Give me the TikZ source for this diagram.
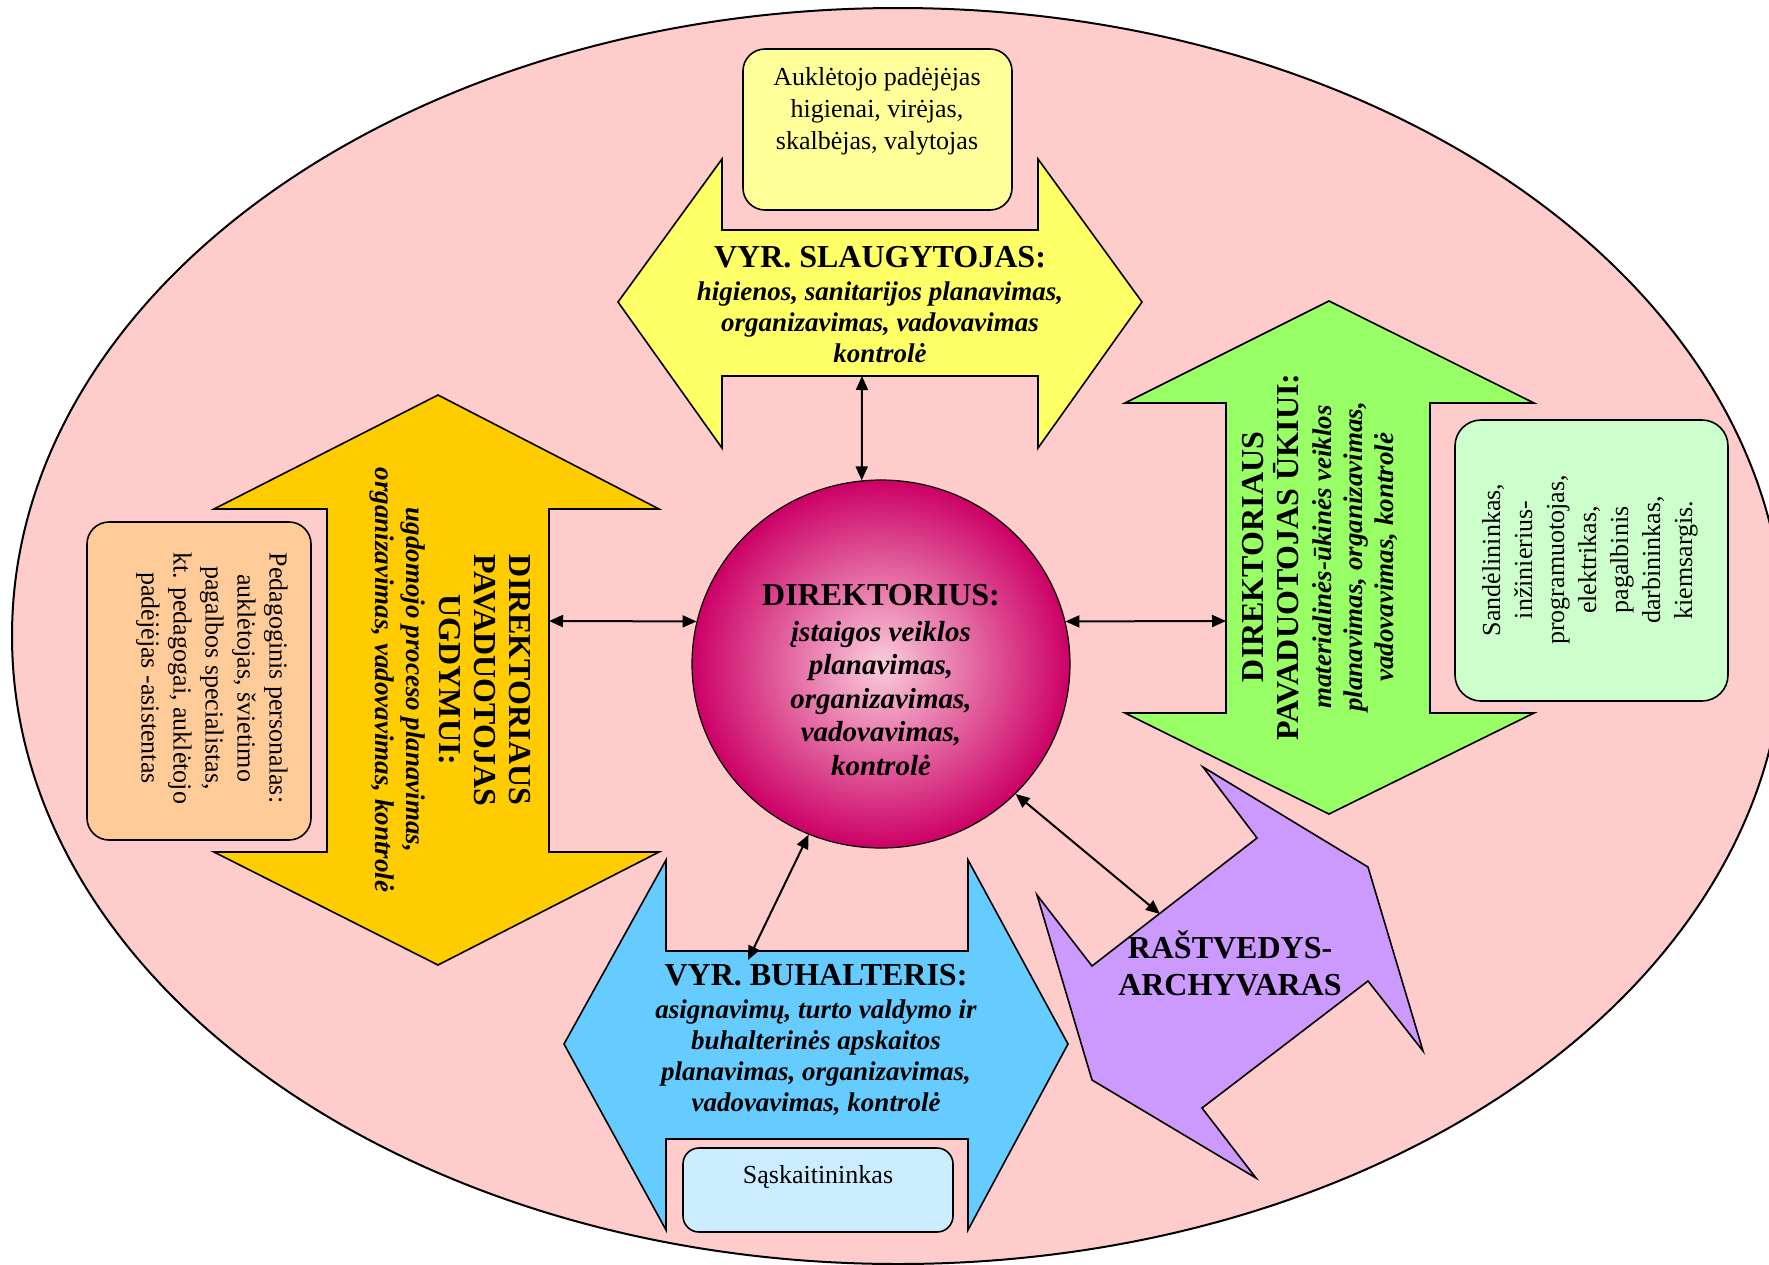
\documentclass[tikz,border=0pt]{standalone}
\usepackage{fontspec}
\setmainfont{Liberation Serif}
\usetikzlibrary{arrows.meta,shapes.geometric}
\definecolor{bgpink}{HTML}{FFCCCC}
\definecolor{yellowA}{HTML}{FFFF66}
\definecolor{yellowB}{HTML}{FFFF99}
\definecolor{orangeA}{HTML}{FFCC00}
\definecolor{orangeB}{HTML}{FFCC99}
\definecolor{greenA}{HTML}{99FF66}
\definecolor{greenB}{HTML}{CCFFCC}
\definecolor{blueA}{HTML}{66CCFF}
\definecolor{blueB}{HTML}{CCECFF}
\definecolor{purpleA}{HTML}{CC99FF}
\definecolor{dirout}{HTML}{CC0066}
\definecolor{dirin}{RGB}{250,205,220}
\newcommand\mytitle{\fontsize{16}{18.5}\selectfont\bfseries\upshape}
\newcommand\mybody{\fontsize{13.5}{15.5}\selectfont\bfseries\itshape}
\newcommand\mydir{\fontsize{14.5}{16.8}\selectfont\bfseries\itshape}
\newcommand\mybox{\fontsize{13}{16}\selectfont}
\begin{document}
\begin{tikzpicture}[x=0.5pt,y=-0.5pt,
  shp/.style={draw=black, line width=0.8pt, line join=miter},
  rbox/.style={draw=black, line width=0.8pt, rounded corners=11pt},
  conn/.style={{Triangle[length=7pt,width=6pt]}-{Triangle[length=7pt,width=6pt]}, line width=1pt},
  lbl/.style={align=center, inner sep=0pt}]
\useasboundingbox (0,0) rectangle (1769,1265);
\clip (0,0) rectangle (1769,1265);
% background ellipse
\draw[fill=bgpink, line width=1pt] (898,636) ellipse [x radius=443pt, y radius=314pt];
% yellow arrow
\draw[shp, fill=yellowA] (722,230) -- (722,159) -- (618,302) -- (722,448) -- (722,376) -- (1038,376) -- (1038,448) -- (1142,302) -- (1038,159) -- (1038,230) -- cycle;
% orange arrow
\draw[shp, fill=orangeA] (327,509) -- (214,509) -- (438,395) -- (659,509) -- (549,509) -- (549,852) -- (659,852) -- (438,965) -- (214,852) -- (327,852) -- cycle;
% green arrow
\draw[shp, fill=greenA] (1226,403) -- (1125,403) -- (1329,301) -- (1534,403) -- (1430,403) -- (1430,713) -- (1534,713) -- (1329,814) -- (1125,713) -- (1226,713) -- cycle;
% blue arrow
\draw[shp, fill=blueA] (666,951) -- (666,860) -- (564,1044) -- (666,1230) -- (666,1139) -- (968,1139) -- (968,1230) -- (1068,1044) -- (968,860) -- (968,951) -- cycle;
% purple arrow
\draw[shp, fill=purpleA] (1203,767) -- (1257,838) -- (1092,966) -- (1037,895) -- (1092,1080) -- (1256,1178) -- (1202,1108) -- (1368,981) -- (1423,1051) -- (1368,867) -- cycle;
% boxes
\draw[rbox, fill=yellowB] (743,49) rectangle (1012,210);
\draw[rbox, fill=orangeB] (87,522) rectangle (311,840);
\draw[rbox, fill=greenB, rounded corners=13pt] (1455,420) rectangle (1728,701);
\draw[rbox, fill=blueB, rounded corners=8pt] (683,1148) rectangle (953,1232);
% director
\node[ellipse, draw=black, line width=0.6pt, minimum width=189pt, minimum height=184pt, inner sep=0pt,
      shading=radial, inner color=dirin, outer color=dirout] (dir) at (881,664) {};
% texts
\node[lbl, font=\mybox] (yslbox) at (877,111) {Auklėtojo padėjėjas\\higienai, virėjas,\\skalbėjas, valytojas};
\node[lbl, font=\mybody] (ysl) at (880,305) {{\mytitle VYR. SLAUGYTOJAS:}\\[1pt]higienos, sanitarijos planavimas,\\organizavimas, vadovavimas\\kontrolė};
\node[lbl, font=\mydir] (dirtxt) at (881,680) {{\mytitle DIREKTORIUS:}\\[1pt]įstaigos veiklos\\planavimas,\\organizavimas,\\vadovavimas,\\kontrolė};
\node[lbl, font=\mybody, rotate=-90] (ugd) at (450,680) {{\mytitle DIREKTORIAUS}\\[2pt]{\mytitle PAVADUOTOJAS}\\[2pt]{\mytitle UGDYMUI:}\\[1pt]ugdomojo proceso planavimas,\\organizavimas, vadovavimas, kontrolė};
\node[lbl, font=\mybox, rotate=-90] (ugdbox) at (212,678) {Pedagoginis personalas:\\auklėtojas, švietimo\\pagalbos specialistas,\\kt. pedagogai, auklėtojo\\padėjėjas -asistentas};
\node[lbl, font=\mybody, rotate=90] (uki) at (1320,557) {{\mytitle DIREKTORIAUS}\\[2pt]{\mytitle PAVADUOTOJAS ŪKIUI:}\\[1pt]materialinės-ūkinės veiklos\\planavimas, organizavimas,\\vadovavimas, kontrolė};
\node[lbl, font=\mybox, rotate=90] (ukibox) at (1590,560) {Sandėlininkas,\\inžinierius-\\programuotojas,\\elektrikas,\\pagalbinis\\darbininkas,\\kiemsargis.};
\node[lbl, font=\mybody] (buh) at (816,1040) {{\mytitle VYR. BUHALTERIS:}\\[1pt]asignavimų, turto valdymo ir\\buhalterinės apskaitos\\planavimas, organizavimas,\\vadovavimas, kontrolė};
\node[lbl, font=\mybox] (buhbox) at (818,1177) {Sąskaitininkas};
\node[lbl, font=\mytitle] (rast) at (1230,963) {RAŠTVEDYS-\\ARCHYVARAS};
% connector ends
\coordinate (c-ysl) at (862,376);
\coordinate (c-ugd) at (549,621);
\coordinate (c-uki) at (1226,621);
\coordinate (c-buh) at (748,960);
\coordinate (c-rast) at (1160,914);
\draw[conn] (c-ysl) -- (dir.96);
\draw[conn] (c-ugd) -- (dir.167);
\draw[conn] (dir.13) -- (c-uki);
\draw[conn] (dir.247) -- (c-buh);
\draw[conn] (dir.-44) -- (c-rast);
\end{tikzpicture}
\end{document}
